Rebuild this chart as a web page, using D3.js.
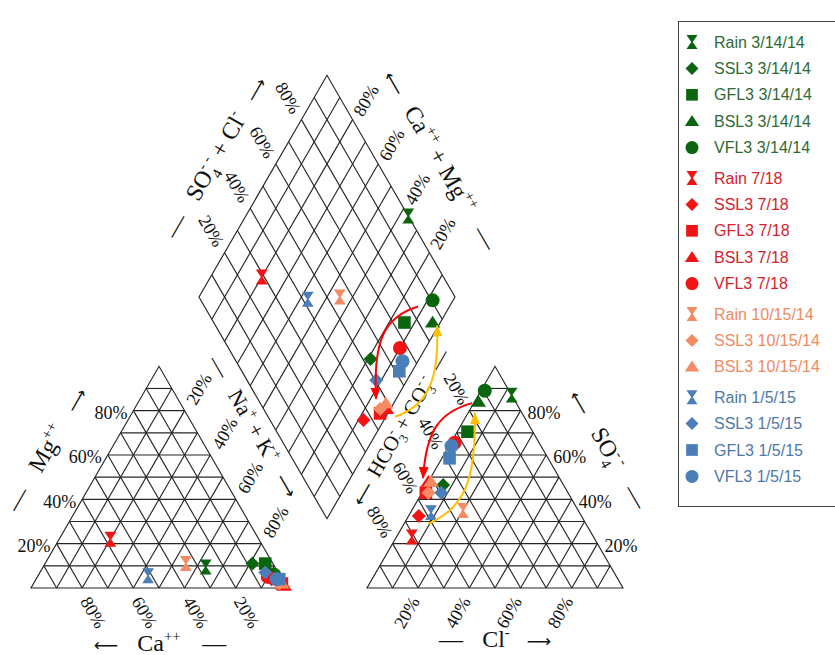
<!DOCTYPE html>
<html>
<head>
<meta charset="utf-8">
<script src="https://cdn.jsdelivr.net/npm/d3@7"></script>
<style>
  body { margin: 0; background: #fff; }
  text { font-family: "Liberation Serif", "Times New Roman", serif; white-space: pre; }
  .legend text { font-family: "Liberation Sans", Arial, sans-serif; }
  .arw { font-family: "DejaVu Sans", sans-serif; }
</style>
</head>
<body>
<svg id="chart" width="835" height="655"></svg>
<script>
// ---- Samples (milliequivalent percentages) ----
const sampleNames = [
  "Rain 3/14/14", "SSL3 3/14/14", "GFL3 3/14/14", "BSL3 3/14/14", "VFL3 3/14/14",
  "Rain 7/18", "SSL3 7/18", "GFL3 7/18", "BSL3 7/18", "VFL3 7/18",
  "Rain 10/15/14", "SSL3 10/15/14", "BSL3 10/15/14",
  "Rain 1/5/15", "SSL3 1/5/15", "GFL3 1/5/15", "VFL3 1/5/15"
];
const sampleShapes = [
  "hourglass", "diamond", "square", "triangle", "circle",
  "hourglass", "diamond", "square", "triangle", "circle",
  "hourglass", "diamond", "triangle",
  "hourglass", "diamond", "square", "circle"
];
const sampleSeries = [0, 0, 0, 0, 0, 1, 1, 1, 1, 1, 2, 2, 2, 3, 3, 3, 3];

// cations
const caPct  = [27, 8, 3, 1, 2,   58, 4, 1, 0.5, 5,   34, 2, 1,   51.5, 5, 1, 2];
const mgPct  = [9.5, 11, 11, 2, 6, 22, 4, 2, 1, 5,    11, 2, 2,   5.5, 7, 4, 4];
const nakPct = [63.5, 81, 86, 97, 92, 20, 92, 97, 98.5, 90, 55, 96, 97, 43, 88, 95, 94];
// anions
const hco3Pct = [0, 47, 25.5, 14.5, 9.5, 71, 63.5, 55.5, 52, 33, 45, 54.5, 51, 58, 49.5, 38.5, 35];
const clPct   = [13, 6.5, 4, 1.5, 1.5, 6, 4, 1.5, 0, 1.5, 20, 2.5, 1, 8, 7.5, 3, 1];
const so4Pct  = [87, 46.5, 70.5, 84, 89, 23, 32.5, 43, 48, 65.5, 35, 43, 48, 34, 43, 58.5, 64];

const seriesMarkerColor = ["#0b650f", "#f01414", "#f58a63", "#4a7eb8"];
const seriesTextColor   = ["#2f6a35", "#d3232b", "#ee8a5f", "#4e79a7"];

const tickPct = [20, 40, 60, 80];

// Trend arrows: cubic curves given as [Na+K %, HCO3 %] in the diamond field
const diamondRedArrow  = [[87.7, 16.6], [77.1, 31.8], [77.4, 41.5], [92.1, 53.8]];
const diamondGoldArrow = [[103.6, 50.4], [113.0, 36.5], [113.7, 25.4], [99.4, 13.5]];
// and as [Cl %, SO4 %] in the anion triangle
const anionRedArrow  = [[-0.7, 83.4], [-11.2, 79.4], [-12.6, 71.3], [-2.9, 49.6]];
const anionGoldArrow = [[9.4, 28.9], [20.2, 36.1], [18.2, 48.7], [2.7, 78.9]];

// ---- Geometry ----
const svg = d3.select("#chart");
const side = 256, gap = 80;
const S60 = Math.sqrt(3) / 2;
const x0 = 31, baseY = 588;
const len = d3.scaleLinear().domain([0, 100]).range([0, side]);

function cationXY(nak, mg) { return [x0 + len(nak) + len(mg) / 2, baseY - len(mg) * S60]; }
function anionXY(cl, so4)  { return [x0 + side + gap + len(cl) + len(so4) / 2, baseY - len(so4) * S60]; }
const bx = x0 + side + gap / 2, by = baseY - gap * S60;
function diamondXY(nak, hco3) {
  return [bx + (len(nak) - len(hco3)) / 2, by - (2 * side - len(nak) - len(hco3)) * S60];
}

const gridColor = "#262626";
const grid = svg.append("g").attr("fill", "none").attr("stroke", gridColor).attr("stroke-width", 1.15);
const line = d3.line();
function seg(a, b) { grid.append("path").attr("d", line([a, b])); }

const steps = d3.range(10, 100, 10);
// cation triangle
steps.forEach(p => {
  seg(cationXY(0, p), cationXY(100 - p, p));
  seg(cationXY(p, 0), cationXY(p, 100 - p));
  seg(cationXY(100 - p, 0), cationXY(0, 100 - p));
});
grid.append("path").attr("d", line([cationXY(0, 0), cationXY(100, 0), cationXY(0, 100)]) + "Z");
// anion triangle
steps.forEach(p => {
  seg(anionXY(0, p), anionXY(100 - p, p));
  seg(anionXY(p, 0), anionXY(p, 100 - p));
  seg(anionXY(100 - p, 0), anionXY(0, 100 - p));
});
grid.append("path").attr("d", line([anionXY(0, 0), anionXY(100, 0), anionXY(0, 100)]) + "Z");
// diamond
steps.forEach(p => {
  seg(diamondXY(p, 0), diamondXY(p, 100));
  seg(diamondXY(0, p), diamondXY(100, p));
});
grid.append("path").attr("d", line([diamondXY(100, 100), diamondXY(0, 100), diamondXY(0, 0), diamondXY(100, 0)]) + "Z");

// ---- Percent tick labels ----
const tl = svg.append("g").attr("font-size", 18).attr("fill", "#111");
function tick(pt, dx, dy, angle, anchor, p) {
  tl.append("text")
    .attr("transform", `translate(${pt[0] + dx},${pt[1] + dy}) rotate(${angle})`)
    .attr("text-anchor", anchor).attr("dy", "0.35em").text(p + "%");
}
tickPct.forEach(p => {
  tick(cationXY(0, p), -6, 2, 0, "end", p);              // Mg++
  tick(cationXY(100 - p, 0), 3, 10, 60, "start", p);     // Ca++
  tick(cationXY(p, 100 - p), 6, -7.5, -60, "start", p);  // Na+ + K+
  tick(anionXY(p, 0), -3.5, 10, -60, "end", p);          // Cl-
  tick(anionXY(100 - p, p), 7, 2, 0, "start", p);        // SO4--
  tick(anionXY(0, 100 - p), -4.5, -7.5, 60, "end", p);   // HCO3- + CO3--
  tick(diamondXY(0, 100 - p), -5, -7.5, 60, "end", p);   // SO4-- + Cl-
  tick(diamondXY(100 - p, 0), 5, -5, -60, "start", p);   // Ca++ + Mg++
});

// ---- Axis titles ----
const sup = (t, dx) => ({ t, sh: -0.42, sc: 0.62, dx });
const sub = (t, dx) => ({ t, sh: 0.28, sc: 0.62, dx });
const arw = (t, dx) => ({ t, dx, arrow: true });
function title(cx, cy, angle, size, segs) {
  const txt = svg.append("text")
    .attr("transform", `translate(${cx},${cy}) rotate(${angle})`)
    .attr("text-anchor", "middle").attr("font-size", size).attr("fill", "#111")
    .attr("y", size * 0.35);
  let cur = 0;
  segs.forEach(s => {
    const sh = (s.sh || 0) * size;
    const ts = txt.append("tspan").text(s.t).attr("dy", sh - cur);
    cur = sh;
    if (s.sc) ts.attr("font-size", size * s.sc);
    if (s.dx) ts.attr("dx", s.dx * size);
    if (s.arrow) ts.attr("class", "arw").attr("font-size", 17);
  });
}
title(46, 449, -60, 24, [{ t: "—" }, { t: "Mg", dx: 0.9 }, sup("++"), arw("⟶", 0.8)]);
title(160, 643, 0, 24, [arw("⟵"), { t: "Ca", dx: 0.8 }, sup("++"), { t: "—", dx: 0.9 }]);
title(254, 426, 60, 22, [{ t: "—" }, { t: "Na", dx: 0.8 }, sup("+"), { t: " + K" }, sup("+"), arw("⟶", 0.7)]);
title(215, 157, -60, 24, [{ t: "—" }, { t: "SO", dx: 0.8 }, sub("4"), sup("- -", -0.31), { t: " + Cl" }, sup("-"), arw("⟶", 0.7)]);
title(441, 160, 60, 24, [arw("⟵"), { t: "Ca", dx: 0.7 }, sup("++"), { t: " + Mg" }, sup("++"), { t: "—", dx: 0.8 }]);
title(400, 427, -60, 21, [arw("⟵"), { t: "HCO", dx: 0.4 }, sub("3"), sup("-", -0.3), { t: " + CO" }, sub("3"), sup("- -", -0.3), { t: "—", dx: 0.5 }]);
title(609, 449, 60, 24, [arw("⟵"), { t: "SO", dx: 0.8 }, sub("4"), sup("- -", -0.31), { t: "—", dx: 0.9 }]);
title(495, 639, 0, 24, [{ t: "—" }, { t: "Cl", dx: 0.8 }, sup("-"), arw("⟶", 0.7)]);

// ---- Marker shapes ----
const shapeTypes = {
  circle: { draw(c, r) { c.moveTo(r, 0); c.arc(0, 0, r, 0, 2 * Math.PI); } },
  square: { draw(c, r) { const h = r * 0.9; c.rect(-h, -h, 2 * h, 2 * h); } },
  diamond: { draw(c, r) { c.moveTo(0, -r); c.lineTo(r, 0); c.lineTo(0, r); c.lineTo(-r, 0); c.closePath(); } },
  triangle: { draw(c, r) { c.moveTo(0, -r * 0.95); c.lineTo(r * 1.1, r * 0.72); c.lineTo(-r * 1.1, r * 0.72); c.closePath(); } },
  hourglass: { draw(c, r) {
    const w = r * 0.85, h = r * 1.07, n = r * 0.12;
    c.moveTo(-w, -h); c.lineTo(w, -h); c.lineTo(n, 0); c.lineTo(w, h);
    c.lineTo(-w, h); c.lineTo(-n, 0); c.closePath();
  } }
};
const symbolPath = (shape, r) => d3.symbol().type(shapeTypes[shape]).size(r)();

const idx = d3.range(sampleNames.length);
const marks = svg.append("g");
function plot(posFn) {
  marks.append("g").selectAll("path").data(idx).join("path")
    .attr("transform", i => { const p = posFn(i); return `translate(${p[0]},${p[1]})`; })
    .attr("d", i => symbolPath(sampleShapes[i], 7))
    .attr("fill", i => seriesMarkerColor[sampleSeries[i]]);
}
plot(i => cationXY(nakPct[i], mgPct[i]));
plot(i => anionXY(clPct[i], so4Pct[i]));
plot(i => diamondXY(nakPct[i], hco3Pct[i]));

// ---- Trend arrows ----
const defs = svg.append("defs");
function arrowHead(id, color) {
  defs.append("marker").attr("id", id)
    .attr("viewBox", "0 0 12 10").attr("refX", 11).attr("refY", 5)
    .attr("markerWidth", 12).attr("markerHeight", 10)
    .attr("markerUnits", "userSpaceOnUse").attr("orient", "auto")
    .append("path").attr("d", "M0,0L12,5L0,10Z").attr("fill", color);
}
arrowHead("headRed", "#ff0000");
arrowHead("headGold", "#ffc000");
function curve(pts, proj, color, head) {
  const p = pts.map(d => proj(d[0], d[1]));
  const path = d3.path();
  path.moveTo(p[0][0], p[0][1]);
  path.bezierCurveTo(p[1][0], p[1][1], p[2][0], p[2][1], p[3][0], p[3][1]);
  svg.append("path").attr("d", path.toString()).attr("fill", "none")
    .attr("stroke", color).attr("stroke-width", 2).attr("marker-end", `url(#${head})`);
}
curve(diamondRedArrow, diamondXY, "#ff0000", "headRed");
curve(diamondGoldArrow, diamondXY, "#ffc000", "headGold");
curve(anionRedArrow, anionXY, "#ff0000", "headRed");
curve(anionGoldArrow, anionXY, "#ffc000", "headGold");

// ---- Legend ----
const legend = svg.append("g").attr("class", "legend");
legend.append("rect").attr("x", 678.5).attr("y", 21.5).attr("width", 180).attr("height", 485)
  .attr("fill", "#fff").attr("stroke", "#444").attr("stroke-width", 1);
const rowY = i => 42 + i * 26.4 + sampleSeries[i] * 4;
const rows = legend.selectAll("g.row").data(idx).join("g").attr("class", "row")
  .attr("transform", i => `translate(0,${rowY(i)})`);
rows.append("path")
  .attr("transform", "translate(692,0)")
  .attr("d", i => symbolPath(sampleShapes[i], 6.5))
  .attr("fill", i => seriesMarkerColor[sampleSeries[i]]);
rows.append("text").attr("x", 714).attr("dy", "0.35em").attr("font-size", 16)
  .attr("fill", i => seriesTextColor[sampleSeries[i]])
  .text(i => sampleNames[i]);
</script>
</body>
</html>
